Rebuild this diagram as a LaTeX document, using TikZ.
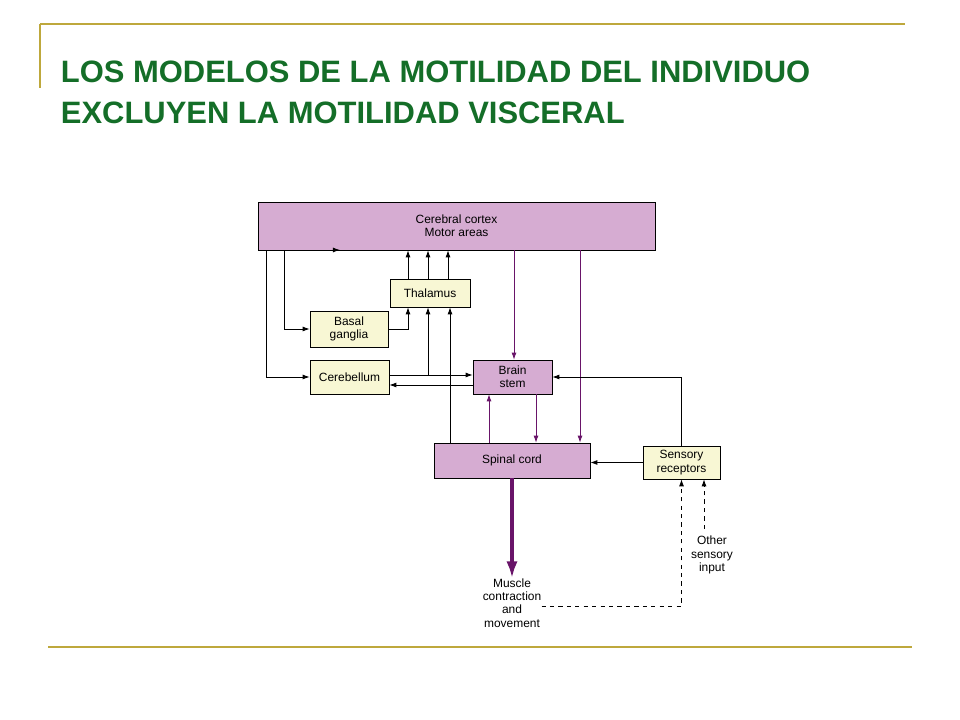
\documentclass[tikz,border=0pt]{standalone}
\usepackage{fontspec}
\setmainfont{Liberation Sans}
\usetikzlibrary{positioning,arrows.meta}
\definecolor{olive}{RGB}{190,168,60}
\definecolor{titlegreen}{RGB}{20,110,40}
\definecolor{pinkbox}{RGB}{214,172,210}
\definecolor{creambox}{RGB}{248,247,212}
\definecolor{purpline}{RGB}{105,20,105}
\tikzset{
  pinknode/.style={draw,fill=pinkbox,inner sep=0pt,align=center,font=\fontsize{8.5}{9.5}\selectfont},
  creamnode/.style={draw,fill=creambox,inner sep=0pt,align=center,font=\fontsize{8.5}{9.5}\selectfont},
  plain/.style={align=center,inner sep=0pt,font=\fontsize{8.5}{9.5}\selectfont},
  link/.style={-{Latex[length=5pt,width=3.5pt]},semithick},
  plink/.style={link,purpline},
  dlink/.style={link,dashed}
}
\begin{document}
\begin{tikzpicture}[x=0.025cm,y=-0.025cm]
 \useasboundingbox (0,0) rectangle (960,720);
 % slide frame
 \draw[olive,thick] (40,24)--(905,24);
 \draw[olive,thick] (40,24)--(40,88);
 \draw[olive,thick] (48,647)--(912,647);
 \node[anchor=west,text=titlegreen,font=\fontsize{22}{26}\selectfont\bfseries] (title1) at (56,72) {LOS MODELOS DE LA MOTILIDAD DEL INDIVIDUO};
 \node[anchor=west,text=titlegreen,font=\fontsize{22}{26}\selectfont\bfseries] (title2) at (56,113) {EXCLUYEN LA MOTILIDAD VISCERAL};
 % boxes
 \node[pinknode,minimum width=9.925cm,minimum height=1.2cm] (cortex) at (456.5,226) {Cerebral cortex\\Motor areas};
 \node[creamnode,minimum width=2cm,minimum height=0.7cm] (thal) at (430,293) {Thalamus};
 \node[creamnode,minimum width=1.95cm,minimum height=0.9cm] (basal) at (349,329) {Basal\\ganglia};
 \node[creamnode,minimum width=1.975cm,minimum height=0.85cm] (cereb) at (349.5,377) {Cerebellum};
 \node[pinknode,minimum width=1.975cm,minimum height=0.85cm] (stem) at (512.5,377) {Brain\\stem};
 \node[pinknode,minimum width=3.9cm,minimum height=0.875cm] (spinal) at (512,460.5) {Spinal cord};
 \node[creamnode,minimum width=1.925cm,minimum height=0.825cm] (sens) at (681.5,462.5) {Sensory\\receptors};
 \node[plain] (muscle) at (512,603) {Muscle\\contraction\\and\\movement};
 \node[plain,anchor=north] (other) at (712,536) {Other\\sensory\\input};
 % connectors
 \draw[link] (cortex.south west -| 266,0) |- (cereb.west);
 \draw[link] (cortex.south west -| 284,0) |- (basal.west);
 \draw[link] (328,250) -- (340,250);
 \foreach \xx in {408,428,448}
  \draw[link] (thal.north -| \xx,0) -- (cortex.south -| \xx,0);
 \draw[link] (basal.east) -| (thal.south -| 408,0);
 \draw[link] (428,375) -- (thal.south -| 428,0);
 \draw[link] (spinal.north -| 450,0) -- (thal.south -| 450,0);
 \draw[link] (cereb.east |- 0,375) -- (stem.west |- 0,375);
 \draw[link] (stem.west |- 0,385) -- (cereb.east |- 0,385);
 \draw[plink] (cortex.south -| 514,0) -- (stem.north -| 514,0);
 \draw[plink] (cortex.south -| 580,0) -- (spinal.north -| 580,0);
 \draw[plink] (spinal.north -| 489,0) -- (stem.south -| 489,0);
 \draw[plink] (stem.south -| 536,0) -- (spinal.north -| 536,0);
 \draw[link] (sens.north) |- (stem.east);
 \draw[link] (sens.west) -- (spinal.east |- sens.west);
 \draw[purpline,line width=2.5pt,-{Latex[length=12pt,width=8pt]}] (spinal.south) -- (muscle.north);
 \draw[dlink] (muscle.east |- 0,606) -| (sens.south);
 \draw[dlink] (704,529) -- (sens.south -| 704,0);
\end{tikzpicture}
\end{document}
